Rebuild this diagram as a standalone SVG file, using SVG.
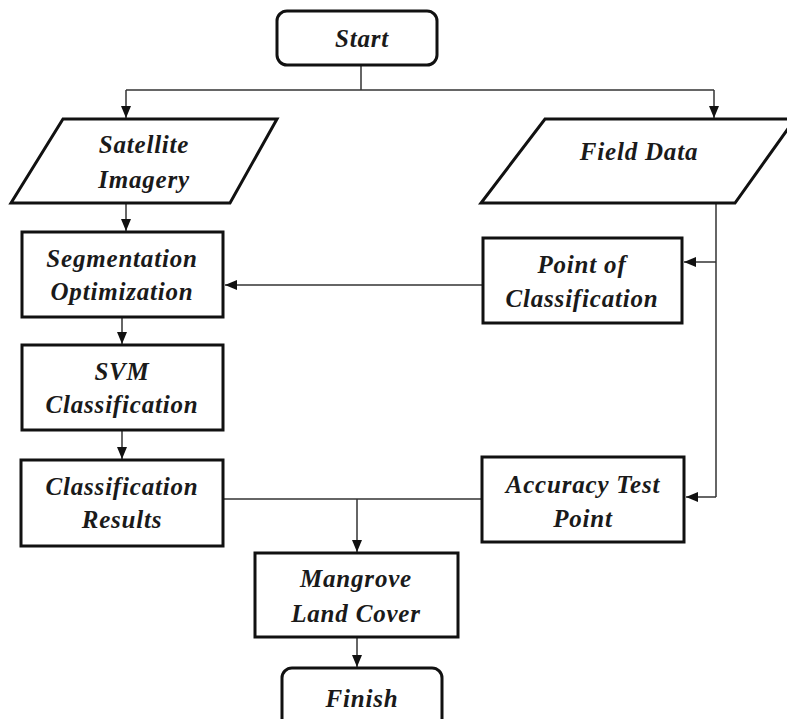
<svg xmlns="http://www.w3.org/2000/svg" width="787" height="719" viewBox="0 0 787 719">
<defs>
<marker id="ah" markerWidth="12" markerHeight="12" viewBox="0 0 12 12" refX="12" refY="6" orient="auto" markerUnits="userSpaceOnUse">
<path d="M0,1 L12,6 L0,11 Z" fill="#111"/>
</marker>
<style>
.box{fill:#fff;stroke:#111;stroke-width:3}
.t{font-family:"Liberation Serif","Times New Roman",serif;font-weight:bold;font-style:italic;font-size:25px;letter-spacing:0.8px;fill:#1a1a1a;text-anchor:middle}
.c{fill:none;stroke:#333;stroke-width:1.5}
.a{marker-end:url(#ah)}
</style>
</defs>
<rect width="787" height="719" fill="#fff"/>
<g id="connectors">
<path class="c" d="M361,65 V90"/>
<path class="c" d="M126,90 H714"/>
<path class="c a" d="M126,90 V118"/>
<path class="c a" d="M714,90 V118"/>
<path class="c a" d="M126,203 V231"/>
<path class="c a" d="M122,317 V344"/>
<path class="c a" d="M122,430 V459"/>
<path class="c" d="M716,203 V497"/>
<path class="c a" d="M716,262 H684"/>
<path class="c a" d="M716,497 H686"/>
<path class="c a" d="M483,285 H225"/>
<path class="c" d="M223,499 H482"/>
<path class="c a" d="M357,499 V552"/>
<path class="c a" d="M357,637 V667"/>
</g>
<g id="start">
<rect class="box" x="277" y="11" width="160" height="54" rx="10"/>
<text class="t" x="362" y="47">Start</text>
</g>
<g id="satellite">
<polygon class="box" points="63,119 277,119 230,203 11,203"/>
<text class="t" x="144" y="153">Satellite</text>
<text class="t" x="144" y="188">Imagery</text>
</g>
<g id="field">
<polygon class="box" points="545,119 795,119 735,203 481,203"/>
<text class="t" x="639" y="160">Field Data</text>
</g>
<g id="segmentation">
<rect class="box" x="22" y="232" width="201" height="85"/>
<text class="t" x="122" y="267">Segmentation</text>
<text class="t" x="122" y="300">Optimization</text>
</g>
<g id="point">
<rect class="box" x="483" y="238" width="199" height="85"/>
<text class="t" x="582" y="273">Point of</text>
<text class="t" x="582" y="307">Classification</text>
</g>
<g id="svm">
<rect class="box" x="22" y="345" width="201" height="85"/>
<text class="t" x="122" y="380">SVM</text>
<text class="t" x="122" y="413">Classification</text>
</g>
<g id="results">
<rect class="box" x="21" y="460" width="202" height="86"/>
<text class="t" x="122" y="495">Classification</text>
<text class="t" x="122" y="528">Results</text>
</g>
<g id="accuracy">
<rect class="box" x="482" y="457" width="202" height="85"/>
<text class="t" x="583" y="493">Accuracy Test</text>
<text class="t" x="583" y="527">Point</text>
</g>
<g id="mangrove">
<rect class="box" x="255" y="553" width="203" height="84"/>
<text class="t" x="356" y="587">Mangrove</text>
<text class="t" x="356" y="622">Land Cover</text>
</g>
<g id="finish">
<rect class="box" x="282" y="668" width="160" height="62" rx="10"/>
<text class="t" x="362" y="707">Finish</text>
</g>
</svg>
